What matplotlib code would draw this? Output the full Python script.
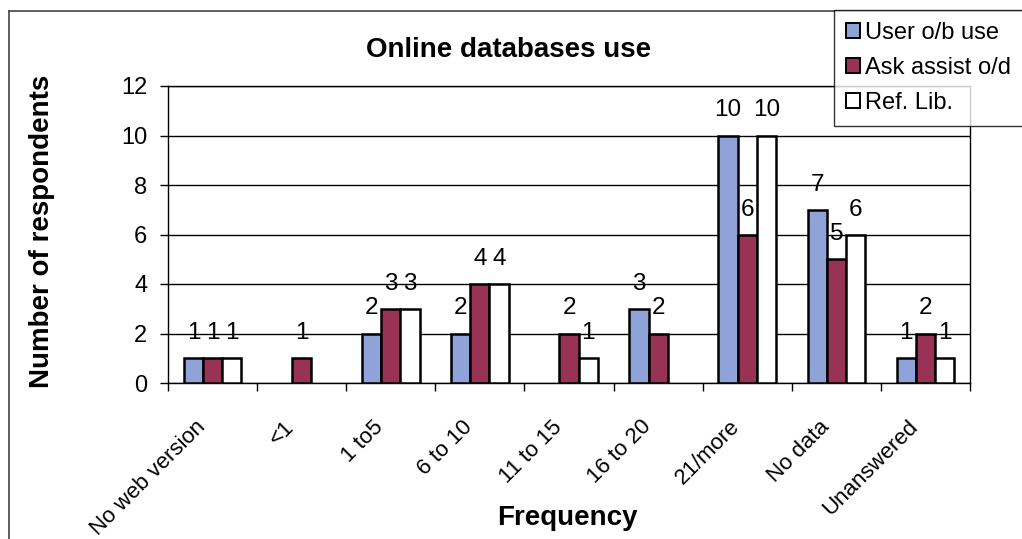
import matplotlib
matplotlib.use("Agg")
import matplotlib.pyplot as plt
import numpy as np
from matplotlib.lines import Line2D

plt.rcParams["font.family"] = ["Liberation Sans", "DejaVu Sans"]

categories = ["No web version", "<1", "1 to5", "6 to 10", "11 to 15",
              "16 to 20", "21/more", "No data", "Unanswered"]
user_ob = [1, 0, 2, 2, 0, 3, 10, 7, 1]
ask_assist = [1, 1, 3, 4, 2, 2, 6, 5, 2]
ref_lib = [1, 0, 3, 4, 1, 0, 10, 6, 1]
series_names = ["User o/b use", "Ask assist o/d", "Ref. Lib."]
yticks = [0, 2, 4, 6, 8, 10, 12]

colors = ["#8FA3D9", "#993355", "#FFFFFF"]

W, H = 1022, 539
fig = plt.figure(figsize=(W / 100, H / 100), dpi=100)
fig.patch.set_facecolor("white")

ax = fig.add_axes([168 / W, 1 - 383 / H, (970 - 168) / W, (383 - 86) / H])

x = np.arange(len(categories))
bw = 0.215
series = [user_ob, ask_assist, ref_lib]
for i, (vals, c) in enumerate(zip(series, colors)):
    pos = x + (i - 1) * bw
    edges = ["black" if v > 0 else "none" for v in vals]
    ax.bar(pos, vals, width=bw, color=c, edgecolor=edges, linewidth=1.8,
           zorder=3)
    for p, v in zip(pos, vals):
        if v > 0:
            ax.annotate(str(v), (p, v), xytext=(0, 18), textcoords="offset points",
                        ha="center", va="center", fontsize=17.5, zorder=4)

ax.set_xlim(-0.5, len(categories) - 0.5)
ax.set_ylim(0, 12)
ax.set_yticks(yticks)
ax.set_yticklabels([str(t) for t in yticks], fontsize=17)
ax.yaxis.grid(True, color="black", linewidth=1.0, zorder=0)
ax.set_axisbelow(True)
ax.tick_params(axis="y", direction="out", length=6, width=1, pad=9)

ax.set_xticks(np.arange(len(categories) + 1) - 0.5, minor=False)
ax.set_xticklabels([])
ax.tick_params(axis="x", which="major", direction="out", length=6, width=1)
ax.set_xticks(x - 0.2, minor=True)
ax.set_xticklabels(categories, minor=True, rotation=45, ha="right",
                   rotation_mode="anchor", fontsize=16)
ax.tick_params(axis="x", which="minor", length=0, pad=24)

for s in ax.spines.values():
    s.set_linewidth(1.0)
    s.set_color("black")

fig.text(509 / W, 1 - 50 / H, "Online databases use", ha="center", va="center",
         fontsize=20, fontweight="bold")
fig.text(42 / W, 1 - 231 / H, "Number of respondents", ha="center", va="center",
         rotation=90, fontsize=20, fontweight="bold")
fig.text(567 / W, 1 - 518 / H, "Frequency", ha="center", va="center",
         fontsize=20, fontweight="bold")

# outer chart frame
fig.add_artist(Line2D([9 / W, 9 / W], [0, 1 - 11 / H], color="#444444",
                      linewidth=1.2, transform=fig.transFigure))
fig.add_artist(Line2D([9 / W, 1], [1 - 11 / H, 1 - 11 / H], color="#444444",
                      linewidth=1.2, transform=fig.transFigure))

handles = [plt.Rectangle((0, 0), 1, 1, facecolor=c, edgecolor="black", linewidth=1.4)
           for c in colors]
leg = fig.legend(handles, series_names, loc="upper left",
                 bbox_to_anchor=(834 / W, 1 - 10 / H), fontsize=17,
                 frameon=True, fancybox=False, edgecolor="black",
                 handlelength=0.6, handleheight=0.6, handletextpad=0.2,
                 labelspacing=0.55, borderpad=0.5, borderaxespad=0)
leg.get_frame().set_linewidth(1.0)

fig.savefig("out.png", dpi=100)
